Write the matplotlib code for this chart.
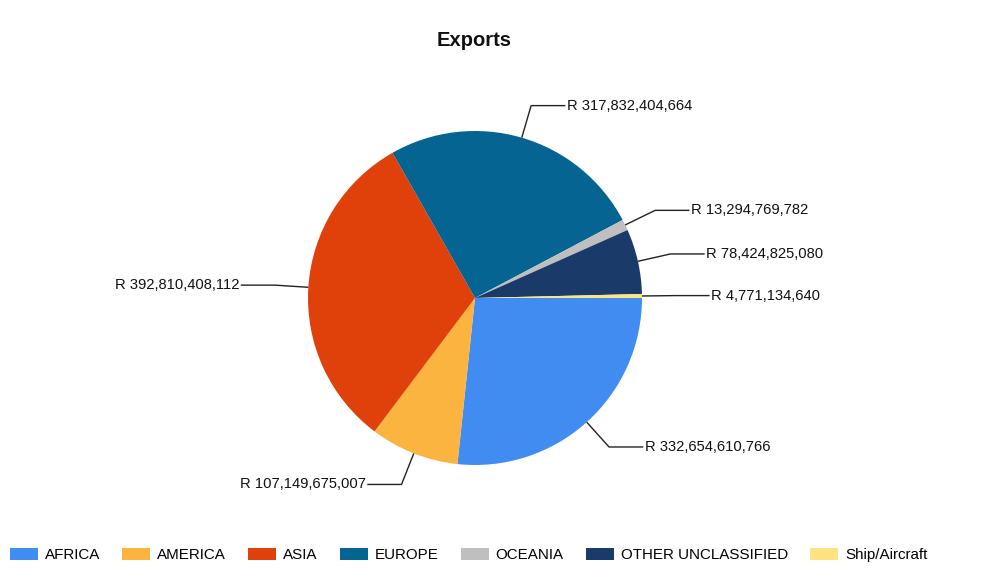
import numpy as np
import matplotlib.pyplot as plt

plt.rcParams["font.family"] = ["Liberation Sans", "DejaVu Sans"]

regions = ["AFRICA", "AMERICA", "ASIA", "EUROPE", "OCEANIA", "OTHER UNCLASSIFIED", "Ship/Aircraft"]
exports = [332654610766, 107149675007, 392810408112, 317832404664, 13294769782, 78424825080, 4771134640]
colors = ["#418CF0", "#FCB441", "#E0400A", "#056492", "#BFBFBF", "#1A3B69", "#FFE382"]

W, H = 989, 585
cx, cy, r = 475, 298, 167  # pie centre and radius in pixels

fig = plt.figure(figsize=(W / 100, H / 100), dpi=100)
ax = fig.add_axes([0, 0, 1, 1])

wedges, _ = ax.pie(exports, colors=colors, startangle=0, counterclock=False,
                   radius=1, center=(0, 0), wedgeprops=dict(linewidth=0))

# pie() resets the limits, so set them afterwards
ax.set_xlim(-cx / r, (W - cx) / r)
ax.set_ylim(-(H - cy) / r, cy / r)
ax.set_aspect("equal")
ax.axis("off")

# leader lines: radial out to 1.2r, then a short horizontal run, then the label
for w, v in zip(wedges, exports):
    mid = np.deg2rad((w.theta1 + w.theta2) / 2)
    x0, y0 = np.cos(mid), np.sin(mid)
    x1, y1 = 1.2 * np.cos(mid), 1.2 * np.sin(mid)
    side = 1 if x0 >= 0 else -1
    x2 = x1 + side * 0.205
    ax.plot([x0, x1, x2], [y0, y1, y1], color="#222222", lw=1, solid_capstyle="butt")
    ax.text(x2 + side * 0.008, y1, "R {:,}".format(v), fontsize=10.6,
            ha="left" if side > 0 else "right", va="center", color="#111111")

fig.text(474 / W, 1 - 40 / H, "Exports", fontsize=14.5, fontweight="bold",
         ha="center", va="center", color="#111111")

fs = 10.9
px = fs * 100 / 72
fig.legend(wedges, regions, loc="center left", bbox_to_anchor=(10 / W, 1 - 555 / H),
           ncol=7, frameon=False, fontsize=fs, borderpad=0, borderaxespad=0,
           handlelength=28 / px, handleheight=12 / px, handletextpad=7 / px,
           columnspacing=22 / px)

fig.savefig("out.png", dpi=100)
